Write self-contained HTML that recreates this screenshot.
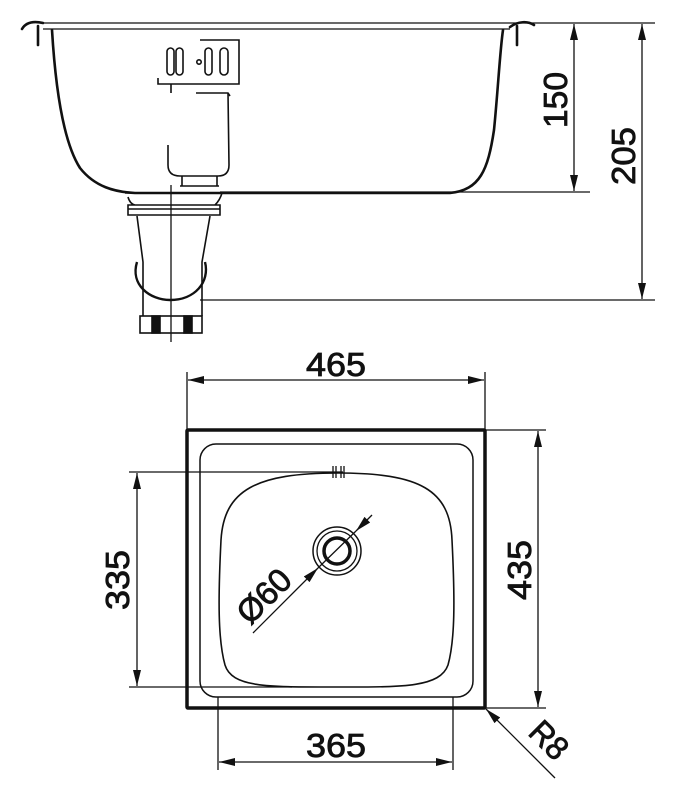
<!DOCTYPE html>
<html><head><meta charset="utf-8"><style>html,body{margin:0;padding:0;background:#fff}svg{display:block}</style></head>
<body>
<svg width="683" height="800" viewBox="0 0 683 800" xmlns="http://www.w3.org/2000/svg" font-family="Liberation Sans, sans-serif" fill="none" stroke="#111">
<defs>
<marker id="b" viewBox="0 0 16 8" refX="16" refY="4" markerWidth="16" markerHeight="8" markerUnits="userSpaceOnUse" orient="auto-start-reverse"><path d="M0,0 L16,4 L0,8z" fill="#111" stroke="none"/></marker>
</defs>
<!-- TOP VIEW -->
<g stroke-width="1.3">
<line x1="43" y1="23" x2="655" y2="23"/>
<line x1="43" y1="29" x2="510" y2="29"/>
<line x1="220" y1="192" x2="590" y2="192"/>
<line x1="200" y1="300" x2="655" y2="300"/>
<line x1="171" y1="185" x2="171" y2="342"/>
</g>
<g stroke-width="2.6" stroke-linecap="round">
<path d="M22,29 C26,22 34,21 43,23"/>
<line x1="38" y1="26" x2="38" y2="45"/>
<path d="M52,30 C55,80 62,140 80,168 C95,187 115,192 135,193 L450,193 C480,190 488,170 494,130 C498,90 500,50 503,30"/>
<path d="M510,27 C518,21 528,21 534,25"/>
<line x1="517" y1="26" x2="517" y2="45"/>
</g>
<g stroke-width="1.6">
<rect x="167" y="48" width="7" height="27" rx="3.5"/>
<rect x="176" y="48" width="7" height="27" rx="3.5"/>
<circle cx="199" cy="62" r="2.2"/>
<rect x="205" y="48" width="7" height="27" rx="3.5"/>
<rect x="220" y="48" width="8" height="27" rx="4"/>
<path d="M200,40 L239,40 L239,84 L158,84 L158,78"/>
<line x1="171" y1="84" x2="171" y2="93"/>
<path d="M196,93 L228,93 L230,96"/>
<path d="M228,93 L229,165 Q229,176 218,176 L180,176 Q168,176 168,165 L168,145"/>
<path d="M182,176 L182,186 M217,176 L217,186 M180,186 L219,186"/>
<path d="M125,193 L222,193 M128,197 Q130,204 135,205 L215,205 Q220,200 222,193 M128,205 L220,205 L220,215 L128,215 Z M128,209 L220,209"/>
<path d="M137,216 L143,262 L143,316 M210,216 L202,262 L202,316"/>
<path d="M137,262 C130,285 150,300 170,300 C195,300 210,282 205,262" stroke-width="2.4"/>
<rect x="140" y="316" width="62" height="17"/>
<rect x="152" y="316" width="8" height="17" fill="#111"/>
<rect x="184" y="316" width="8" height="17" fill="#111"/>
</g>
<g stroke-width="1.3">
<line x1="574" y1="24" x2="574" y2="191" marker-start="url(#b)" marker-end="url(#b)"/>
<line x1="642" y1="24" x2="642" y2="299" marker-start="url(#b)" marker-end="url(#b)"/>
</g>
<g fill="#111" stroke="#111" stroke-width="0.8" font-size="33">
<text transform="translate(567,100) rotate(-90)" text-anchor="middle" textLength="56" lengthAdjust="spacingAndGlyphs">150</text>
<text transform="translate(635,156) rotate(-90)" text-anchor="middle" textLength="58" lengthAdjust="spacingAndGlyphs">205</text>
</g>
<!-- PLAN VIEW -->
<rect x="187" y="430" width="298" height="278" stroke-width="3.5" rx="1"/>
<rect x="200" y="444" width="273" height="253" rx="16" stroke-width="1.5"/>
<path d="M338,473 C420,473 450,490 452,540 C455,600 455,640 448,665 C440,688 400,687 338,687 C270,687 232,688 225,665 C218,640 218,600 221,540 C224,490 256,473 338,473 Z" stroke-width="1.6"/>
<g stroke-width="1.3">
<line x1="129" y1="472" x2="343" y2="472"/>
<line x1="129" y1="687" x2="292" y2="687"/>
<line x1="187" y1="372" x2="187" y2="430"/>
<line x1="485" y1="372" x2="485" y2="430"/>
<line x1="485" y1="430" x2="546" y2="430"/>
<line x1="485" y1="708" x2="546" y2="708"/>
<line x1="218" y1="697" x2="218" y2="770"/>
<line x1="453" y1="697" x2="453" y2="770"/>
<line x1="188" y1="380" x2="484" y2="380" marker-start="url(#b)" marker-end="url(#b)"/>
<line x1="538" y1="431" x2="538" y2="707" marker-start="url(#b)" marker-end="url(#b)"/>
<line x1="137" y1="473" x2="137" y2="686" marker-start="url(#b)" marker-end="url(#b)"/>
<line x1="219" y1="762" x2="452" y2="762" marker-start="url(#b)" marker-end="url(#b)"/>
<line x1="555" y1="778" x2="486" y2="709" marker-end="url(#b)"/>
<line x1="253" y1="633" x2="318" y2="568" marker-end="url(#b)"/>
<line x1="372" y1="515" x2="356" y2="531" marker-end="url(#b)"/>
<line x1="318" y1="568" x2="356" y2="531"/>
<line x1="333" y1="466" x2="333" y2="478"/><line x1="336" y1="466" x2="336" y2="478"/>
<line x1="341" y1="466" x2="341" y2="478"/><line x1="344" y1="466" x2="344" y2="478"/>
</g>
<circle cx="337" cy="551" r="24" stroke-width="1.5"/>
<circle cx="337" cy="551" r="20" stroke-width="1.3"/>
<circle cx="337" cy="551" r="13" stroke-width="3.5"/>
<g fill="#111" stroke="#111" stroke-width="0.8" font-size="33">
<text x="336" y="376" text-anchor="middle" textLength="60" lengthAdjust="spacingAndGlyphs">465</text>
<text x="336" y="757" text-anchor="middle" textLength="60" lengthAdjust="spacingAndGlyphs">365</text>
<text transform="translate(129,580) rotate(-90)" text-anchor="middle" textLength="60" lengthAdjust="spacingAndGlyphs">335</text>
<text transform="translate(531,570) rotate(-90)" text-anchor="middle" textLength="60" lengthAdjust="spacingAndGlyphs">435</text>
<text transform="translate(272,604) rotate(-45)" text-anchor="middle" textLength="62" lengthAdjust="spacingAndGlyphs">Ø60</text>
<text transform="translate(541,748) rotate(45)" text-anchor="middle" textLength="40" lengthAdjust="spacingAndGlyphs">R8</text>
</g>
</svg>
</body></html>
